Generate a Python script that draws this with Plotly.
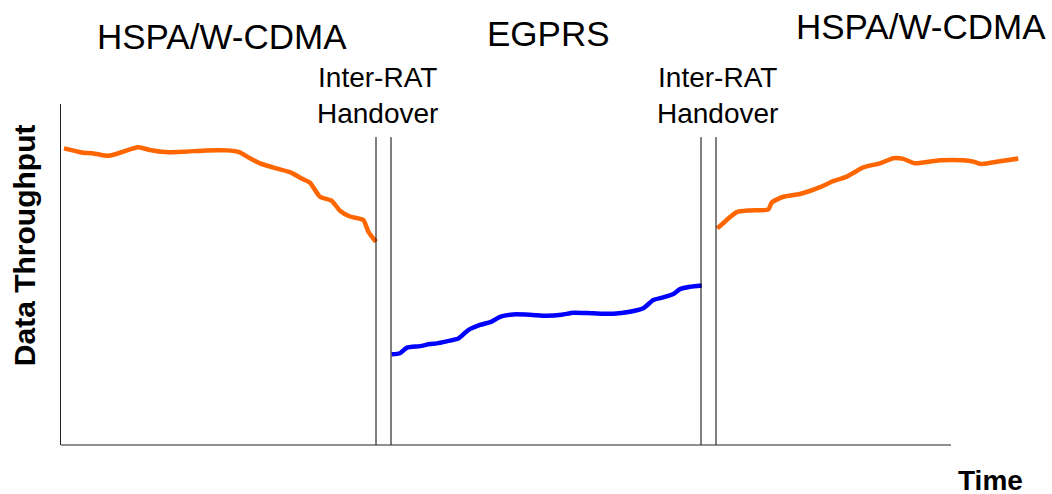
import plotly.graph_objects as go

# HSPA/W-CDMA before first handover
t_hspa1 = [0.3, 2.07, 3.23, 4.73, 5.9, 7.73, 8.9, 10.4, 12.23, 14.57, 16.57, 17.83,
           18.9, 19.9, 21.57, 22.9, 24.23, 24.9, 25.9, 27.07, 27.9, 28.9, 30.23, 30.73, 31.5]
v_hspa1 = [87.0, 85.8, 85.5, 84.8, 85.7, 87.3, 86.5, 85.9, 86.0, 86.4, 86.4, 85.9,
           84.1, 82.6, 81.1, 80.0, 77.9, 76.9, 72.8, 71.6, 68.7, 67.0, 66.0, 62.6, 59.6]

# EGPRS
t_egprs = [33.07, 33.9, 34.57, 35.9, 36.9, 37.57, 38.57, 39.73, 40.73, 41.9, 43.07, 43.9,
           45.23, 46.9, 48.57, 50.07, 51.23, 53.23, 55.23, 56.9, 58.23, 59.23, 60.23,
           61.23, 61.9, 62.9, 64.07]
v_egprs = [26.6, 26.9, 28.5, 29.0, 29.6, 29.8, 30.4, 31.2, 33.7, 35.2, 36.2, 37.6,
           38.3, 38.2, 37.9, 38.2, 38.8, 38.6, 38.5, 39.1, 40.1, 42.5, 43.3,
           44.3, 45.7, 46.4, 46.8]

# HSPA/W-CDMA after second handover
t_hspa2 = [65.63, 66.57, 67.57, 68.9, 70.73, 71.07, 72.23, 73.9, 75.9, 77.07, 78.57,
           80.23, 81.9, 83.23, 84.23, 85.4, 87.9, 90.23, 91.23, 92.07, 93.9, 95.73]
v_hspa2 = [63.5, 66.0, 68.3, 68.8, 69.1, 71.1, 72.8, 73.6, 75.6, 77.2, 78.7,
           81.4, 82.6, 84.1, 83.9, 82.6, 83.5, 83.5, 83.1, 82.4, 83.2, 84.0]

# Handover boundary lines (time) and their height
handover_times = [31.5, 33.0, 64.0, 65.5]
handover_top = 90.3
time_axis_end = 89.0

region_labels = ["HSPA/W-CDMA", "EGPRS", "HSPA/W-CDMA"]
handover_label = "Inter-RAT<br>Handover"

ORANGE = "#FF6600"
BLUE = "#0000FF"
FONT = "Liberation Sans, Arial, sans-serif"

fig = go.Figure()
fig.add_trace(go.Scatter(x=t_hspa1, y=v_hspa1, mode="lines",
                         line=dict(color=ORANGE, width=4.5, shape="spline", smoothing=0.6)))
fig.add_trace(go.Scatter(x=t_egprs, y=v_egprs, mode="lines",
                         line=dict(color=BLUE, width=4.5, shape="spline", smoothing=0.6)))
fig.add_trace(go.Scatter(x=t_hspa2, y=v_hspa2, mode="lines",
                         line=dict(color=ORANGE, width=4.5, shape="spline", smoothing=0.6)))

shapes = []
for t in handover_times:
    shapes.append(dict(type="line", xref="x", yref="y", x0=t, x1=t, y0=0, y1=handover_top,
                       line=dict(color="black", width=1)))
shapes.append(dict(type="line", xref="x", yref="paper", x0=0, x1=time_axis_end, y0=0, y1=0,
                   line=dict(color="#222222", width=1)))

annotations = [
    dict(text=region_labels[0], x=0.166, y=1.198, font=dict(size=35)),
    dict(text=region_labels[1], x=0.503, y=1.208, font=dict(size=35)),
    dict(text=region_labels[2], x=0.887, y=1.228, font=dict(size=35)),
    dict(text=handover_label, x=0.3268, y=1.026, font=dict(size=28)),
    dict(text=handover_label, x=0.677, y=1.026, font=dict(size=28)),
    dict(text="<b>Data Throughput</b>", x=-0.038, y=0.5865, textangle=-90, font=dict(size=30)),
    dict(text="<b>Time</b>", x=0.958, y=-0.104, font=dict(size=28)),
]
for a in annotations:
    a.update(xref="paper", yref="paper", showarrow=False, xanchor="center", yanchor="middle")
    a["font"].update(family=FONT, color="black")

fig.update_layout(
    width=1052, height=494,
    margin=dict(l=61, r=21, t=104, b=49),
    paper_bgcolor="white", plot_bgcolor="white",
    showlegend=False,
    shapes=shapes, annotations=annotations,
    xaxis=dict(range=[0, 97], showgrid=False, zeroline=False, showline=False,
               showticklabels=False, ticks=""),
    yaxis=dict(range=[0, 100], showgrid=False, zeroline=False, showline=True,
               linecolor="#222222", linewidth=1, showticklabels=False, ticks=""),
)

fig.write_html("out.html", config={"displayModeBar": False},
               post_script="document.body.style.margin='0';document.body.style.padding='0';")
